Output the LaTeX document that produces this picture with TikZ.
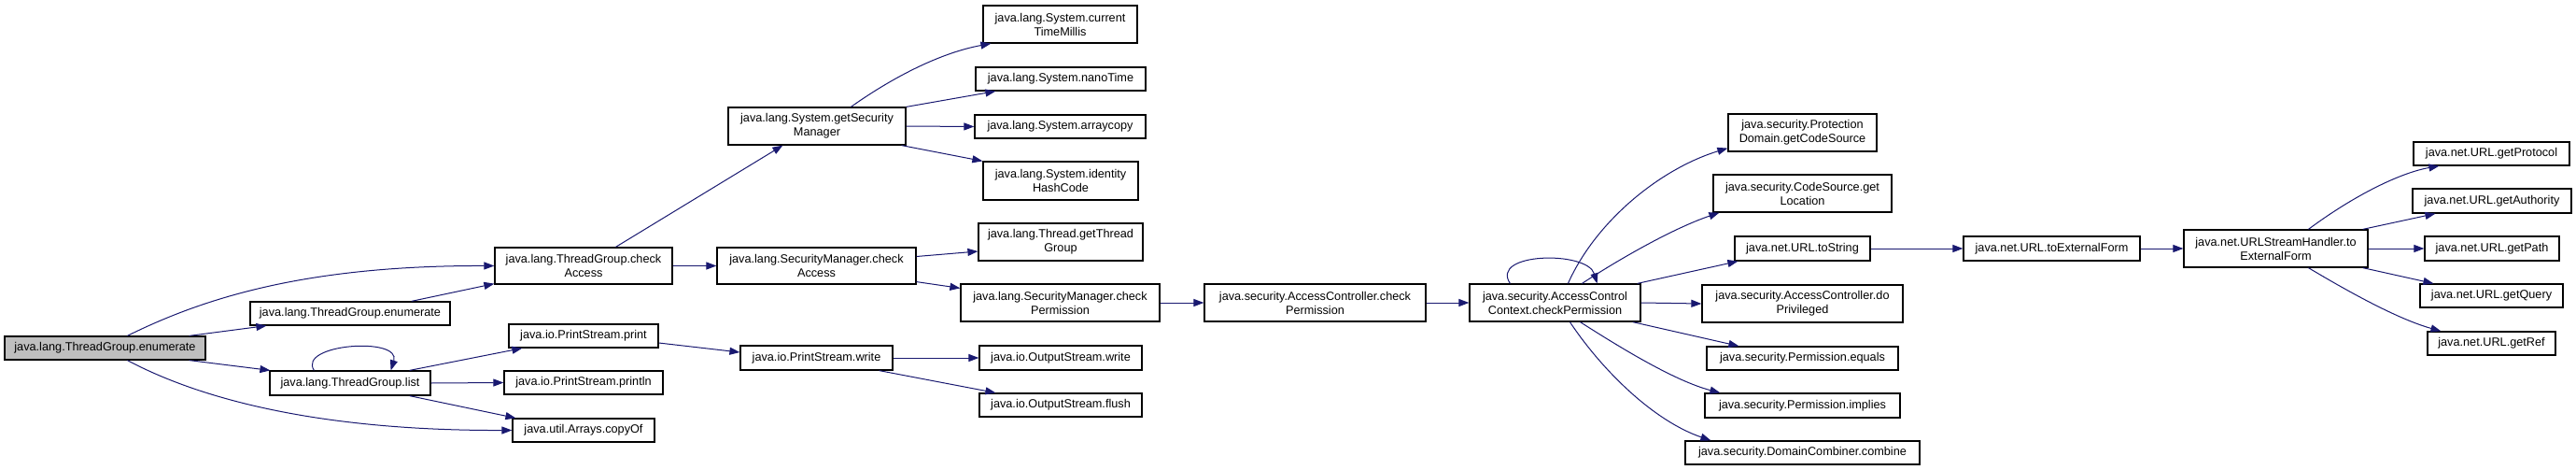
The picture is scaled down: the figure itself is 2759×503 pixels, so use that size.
\documentclass[tikz,border=0pt]{standalone}
\usepackage{fontspec}
\setmainfont{Liberation Sans}
\usetikzlibrary{arrows.meta}
\definecolor{edgec}{HTML}{191970}
\definecolor{rootfill}{HTML}{BFBFBF}
\tikzset{
  box/.style={draw=black, line width=1.2pt, fill=white, inner sep=0pt, align=center,
    font=\fontsize{12.7}{15}\selectfont},
  e/.style={draw=edgec, line width=1pt, -{Triangle[length=11pt,width=8pt]}},
}
\newcommand\nd[7][]{\node[box,#1,minimum width={(#5-#3)*1pt},minimum height={(#6-#4)*1pt}] (#2) at ({(#3+#5)/2},{(#4+#6)/2}) {#7};}
\begin{document}
\begin{tikzpicture}[x=1pt,y=-1pt]
\useasboundingbox (0,0) rectangle (2759,503);
% nodes
\nd[fill=rootfill]{root}{5}{360}{220}{385}{java.lang.ThreadGroup.enumerate}
\nd{enumb}{268}{323}{482}{348}{java.lang.ThreadGroup.enumerate}
\nd{list}{289}{397}{461}{423}{java.lang.ThreadGroup.list}
\nd{tgcheck}{530}{265}{720}{304}{java.lang.ThreadGroup.check\\Access}
\nd{print}{545}{347}{705}{372}{java.io.PrintStream.print}
\nd{println}{540}{397}{710}{422}{java.io.PrintStream.println}
\nd{copyof}{549}{448}{701}{473}{java.util.Arrays.copyOf}
\nd{getsm}{780}{115}{970}{155}{java.lang.System.getSecurity\\Manager}
\nd{smaccess}{768}{265}{981}{304}{java.lang.SecurityManager.check\\Access}
\nd{pswrite}{793}{370}{956}{396}{java.io.PrintStream.write}
\nd{ctm}{1053}{6}{1218}{46}{java.lang.System.current\\TimeMillis}
\nd{nano}{1045}{72}{1227}{97}{java.lang.System.nanoTime}
\nd{arraycopy}{1044}{123}{1227}{148}{java.lang.System.arraycopy}
\nd{ihc}{1053}{173}{1219}{214}{java.lang.System.identity\\HashCode}
\nd{gettg}{1048}{239}{1224}{279}{java.lang.Thread.getThread\\Group}
\nd{smperm}{1029}{304}{1242}{344}{java.lang.SecurityManager.check\\Permission}
\nd{oswrite}{1049}{370}{1223}{396}{java.io.OutputStream.write}
\nd{flush}{1049}{421}{1223}{446}{java.io.OutputStream.flush}
\nd{acperm}{1290}{304}{1527}{344}{java.security.AccessController.check\\Permission}
\nd{acc}{1574}{304}{1757}{344}{java.security.AccessControl\\Context.checkPermission}
\nd{pd}{1851}{122}{2010}{162}{java.security.Protection\\Domain.getCodeSource}
\nd{cs}{1835}{187}{2026}{227}{java.security.CodeSource.get\\Location}
\nd{tostring}{1858}{253}{2003}{279}{java.net.URL.toString}
\nd{dopriv}{1823}{305}{2038}{345}{java.security.AccessController.do\\Privileged}
\nd{equals}{1828}{371}{2033}{396}{java.security.Permission.equals}
\nd{implies}{1826}{421}{2035}{447}{java.security.Permission.implies}
\nd{combine}{1805}{472}{2056}{497}{java.security.DomainCombiner.combine}
\nd{toext}{2103}{253}{2292}{279}{java.net.URL.toExternalForm}
\nd{ush}{2339}{246}{2536}{286}{java.net.URLStreamHandler.to\\ExternalForm}
\nd{protocol}{2585}{152}{2752}{177}{java.net.URL.getProtocol}
\nd{authority}{2584}{202}{2754}{228}{java.net.URL.getAuthority}
\nd{path}{2597}{253}{2741}{279}{java.net.URL.getPath}
\nd{query}{2592}{304}{2745}{329}{java.net.URL.getQuery}
\nd{ref}{2600}{355}{2737}{380}{java.net.URL.getRef}
% edges
\draw[e] ([xshift=132pt]root.north west) .. controls (220,318) and (330,284) .. (tgcheck.west);
\draw[e] ([xshift=-18pt]root.north east) -- ([xshift=18pt]enumb.south west);
\draw[e] ([xshift=-18pt]root.south east) -- ([xshift=1pt]list.north west);
\draw[e] ([xshift=132pt]root.south west) .. controls (220,430) and (350,461) .. (copyof.west);
\draw[e] ([xshift=-42pt]enumb.north east) -- ([yshift=1pt]tgcheck.south west);
\draw[e] ([xshift=48pt]list.north west) .. controls (318,368) and (430,360) .. ([xshift=-43pt]list.north east);
\draw[e] ([xshift=-23pt]list.north east) -- ([xshift=15pt]print.south west);
\draw[e] (list.east) -- (println.west);
\draw[e] ([xshift=-23pt]list.south east) -- ([xshift=4pt]copyof.north west);
\draw[e] ([xshift=130pt]tgcheck.north west) -- ([xshift=59pt]getsm.south west);
\draw[e] (tgcheck.east) -- (smaccess.west);
\draw[e] ([xshift=132pt]getsm.north west) .. controls (960,80) and (1010,56) .. ([xshift=9pt]ctm.south west);
\draw[e] (getsm.north east) -- ([xshift=22pt]nano.south west);
\draw[e] (getsm.east) -- (arraycopy.west);
\draw[e] ([xshift=-5pt]getsm.south east) -- (ihc.north west);
\draw[e] ([yshift=10pt]smaccess.east) -- ([yshift=-10pt]gettg.west);
\draw[e] ([yshift=3pt]smaccess.south east) -- ([yshift=-5pt]smperm.north west);
\draw[e] (smperm.east) -- (acperm.west);
\draw[e] (acperm.east) -- (acc.west);
\draw[e] ([yshift=-7.5pt]print.east) -- ([yshift=6pt]pswrite.west);
\draw[e] (pswrite.east) -- (oswrite.west);
\draw[e] ([xshift=-15pt]pswrite.south east) -- ([xshift=18pt]flush.north west);
\draw[e] ([xshift=44pt]acc.north west) .. controls (1595,270) and (1700,268) .. ([xshift=-47pt]acc.north east);
\draw[e] ([xshift=106pt]acc.north west) .. controls (1710,235) and (1780,180) .. ([yshift=4pt]pd.south west);
\draw[e] ([xshift=121pt]acc.north west) .. controls (1730,280) and (1790,245) .. ([xshift=7pt]cs.south west);
\draw[e] ([xshift=-4pt]acc.north east) -- ([xshift=4pt]tostring.south west);
\draw[e] (acc.east) -- (dopriv.west);
\draw[e] ([xshift=-9pt]acc.south east) -- ([xshift=35pt]equals.north west);
\draw[e] ([xshift=119pt]acc.south west) .. controls (1740,375) and (1795,408) .. ([xshift=17pt]implies.north west);
\draw[e] ([xshift=108pt]acc.south west) .. controls (1715,395) and (1770,450) .. ([xshift=28pt]combine.north west);
\draw[e] (tostring.east) -- (toext.west);
\draw[e] (toext.east) -- (ush.west);
\draw[e] ([xshift=134pt]ush.north west) .. controls (2520,210) and (2570,185) .. ([xshift=28pt]protocol.south west);
\draw[e] ([xshift=-6pt]ush.north east) -- ([xshift=25pt]authority.south west);
\draw[e] (ush.east) -- (path.west);
\draw[e] ([xshift=-6pt]ush.south east) -- ([xshift=15pt]query.north west);
\draw[e] ([xshift=134pt]ush.south west) .. controls (2520,315) and (2570,342) .. ([xshift=15pt]ref.north west);
\end{tikzpicture}
\end{document}
